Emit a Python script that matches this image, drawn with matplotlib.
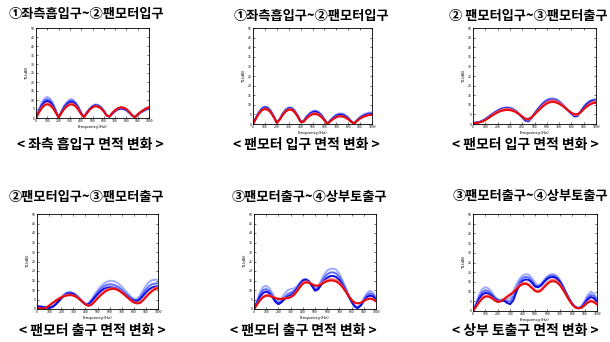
import matplotlib
matplotlib.use("Agg")
import matplotlib.pyplot as plt

plt.rcParams['font.family'] = ['Noto Sans CJK KR', 'DejaVu Sans']

freq = list(range(0, 1001, 25))

# each panel: 5 curves (light blue, blue, dark blue, light red, red)
p1 = [
    [0, 4.4, 8.3, 10.8, 11.7, 10.8, 8.3, 4.4, 0.3, 3.7, 6.9, 8.9, 10.4, 10.3, 8.8, 6.3, 2.9,
     0.5, 3.2, 5.3, 6.8, 7.6, 7.3, 6.2, 4.2, 1.6, 0.7, 2.3, 3.7, 4.6, 5.0, 4.9, 4.2, 2.9, 1.4,
     0.4, 1.7, 2.9, 3.8, 4.6, 5.2],
    [0, 4.0, 7.5, 9.7, 10.5, 9.7, 7.5, 4.0, 0.3, 3.4, 6.5, 8.3, 9.7, 9.6, 8.2, 5.9, 2.7,
     0.5, 3.0, 5.0, 6.5, 7.2, 6.9, 5.8, 4.0, 1.5, 0.7, 2.4, 3.8, 4.8, 5.2, 5.0, 4.3, 3.0, 1.4,
     0.4, 1.8, 3.0, 3.9, 4.8, 5.4],
    [0, 3.6, 6.7, 8.7, 9.5, 8.7, 6.7, 3.6, 0.3, 3.2, 5.9, 7.7, 8.9, 8.8, 7.6, 5.4, 2.5,
     0.5, 2.9, 4.9, 6.3, 7.0, 6.7, 5.7, 3.9, 1.5, 0.8, 2.5, 3.9, 5.0, 5.4, 5.2, 4.5, 3.1, 1.5,
     0.4, 1.8, 3.1, 4.1, 4.9, 5.6],
    [0, 3.2, 5.9, 7.6, 8.3, 7.6, 5.9, 3.2, 0.3, 2.9, 5.4, 7.0, 8.1, 8.0, 6.9, 4.9, 2.3,
     0.5, 2.8, 4.7, 6.0, 6.7, 6.4, 5.4, 3.7, 1.4, 0.8, 2.7, 4.2, 5.3, 5.8, 5.6, 4.8, 3.4, 1.6,
     0.4, 1.9, 3.2, 4.3, 5.2, 5.9],
    [0, 2.9, 5.4, 7.0, 7.6, 7.0, 5.4, 2.9, 0.3, 2.7, 5.0, 6.5, 7.5, 7.4, 6.4, 4.6, 2.1,
     0.5, 2.7, 4.6, 5.9, 6.5, 6.2, 5.3, 3.6, 1.4, 0.8, 2.8, 4.4, 5.5, 6.0, 5.8, 5.0, 3.5, 1.6,
     0.4, 2.0, 3.4, 4.5, 5.4, 6.1],
]
p2 = [
    [0, 3.4, 6.3, 8.3, 9.1, 8.6, 6.8, 4.0, 0.7, 2.6, 5.5, 7.6, 8.6, 8.5, 7.0, 4.5, 1.3,
     1.5, 3.9, 5.6, 6.7, 7.0, 6.4, 4.8, 2.5, 0.1, 2.0, 3.6, 4.9, 5.5, 5.5, 4.7, 3.4, 1.6,
     0.3, 2.1, 3.7, 4.8, 5.5, 5.9, 6.1],
    [0, 3.3, 6.1, 8.1, 8.9, 8.4, 6.7, 3.9, 0.7, 2.6, 5.4, 7.4, 8.4, 8.3, 6.9, 4.4, 1.3,
     1.5, 3.7, 5.4, 6.4, 6.7, 6.1, 4.6, 2.4, 0.1, 1.8, 3.4, 4.6, 5.1, 5.1, 4.4, 3.1, 1.5,
     0.3, 2.0, 3.4, 4.4, 5.1, 5.5, 5.7],
    [0, 3.2, 5.9, 7.8, 8.6, 8.1, 6.5, 3.8, 0.7, 2.5, 5.2, 7.1, 8.1, 8.0, 6.6, 4.3, 1.2,
     1.4, 3.5, 5.0, 6.0, 6.3, 5.7, 4.3, 2.3, 0.1, 1.7, 3.1, 4.2, 4.8, 4.7, 4.0, 2.9, 1.3,
     0.3, 1.9, 3.2, 4.1, 4.8, 5.1, 5.3],
    [0, 3.0, 5.7, 7.5, 8.2, 7.7, 6.2, 3.6, 0.7, 2.4, 5.0, 6.9, 7.8, 7.7, 6.4, 4.1, 1.2,
     1.3, 3.1, 4.6, 5.5, 5.7, 5.2, 3.9, 2.1, 0.1, 1.5, 2.8, 3.8, 4.3, 4.2, 3.6, 2.6, 1.2,
     0.3, 1.7, 2.9, 3.8, 4.4, 4.8, 4.9],
    [0, 2.9, 5.4, 7.1, 7.8, 7.3, 5.9, 3.4, 0.6, 2.3, 4.7, 6.5, 7.4, 7.4, 6.1, 3.9, 1.1,
     1.1, 2.9, 4.2, 5.0, 5.2, 4.7, 3.6, 1.9, 0.1, 1.4, 2.6, 3.5, 4.0, 3.9, 3.4, 2.4, 1.1,
     0.2, 1.6, 2.8, 3.7, 4.2, 4.6, 4.7],
]
p3 = [
    [0.5, 0.7, 1.0, 1.6, 2.6, 3.8, 5.0, 6.2, 7.2, 8.0, 8.5, 8.7, 8.5, 7.9, 6.8, 5.2, 3.4, 1.6,
     1.2, 3.0, 5.5, 7.8, 9.8, 11.5, 12.7, 13.3, 13.4, 13.0, 12.0, 10.5, 8.8, 7.0, 5.3, 3.8,
     4.0, 6.5, 9.0, 10.9, 12.2, 12.8, 13.0],
    [0.5, 0.7, 1.0, 1.6, 2.5, 3.7, 4.9, 6.0, 7.0, 7.8, 8.3, 8.5, 8.3, 7.7, 6.7, 5.2, 3.5, 1.8,
     1.4, 3.1, 5.4, 7.6, 9.5, 11.1, 12.3, 12.9, 13.0, 12.6, 11.7, 10.3, 8.7, 7.0, 5.4, 4.0,
     4.2, 6.4, 8.8, 10.6, 11.8, 12.4, 12.6],
    [0.5, 0.7, 1.0, 1.5, 2.4, 3.5, 4.7, 5.8, 6.8, 7.5, 8.0, 8.2, 8.0, 7.5, 6.6, 5.2, 3.6, 2.0,
     1.7, 3.2, 5.3, 7.4, 9.2, 10.7, 11.8, 12.4, 12.5, 12.2, 11.3, 10.0, 8.5, 7.0, 5.5, 4.2,
     4.4, 6.3, 8.5, 10.2, 11.4, 12.0, 12.2],
    [0.4, 0.6, 0.9, 1.4, 2.2, 3.3, 4.5, 5.6, 6.6, 7.3, 7.8, 8.0, 7.8, 7.3, 6.5, 5.2, 3.8, 2.4,
     2.1, 3.3, 5.1, 7.0, 8.8, 10.3, 11.5, 12.2, 12.4, 12.0, 11.2, 10.0, 8.6, 7.1, 5.7, 4.6,
     4.7, 6.0, 7.9, 9.5, 10.8, 11.6, 12.0],
    [0.3, 0.5, 0.8, 1.2, 2.0, 3.0, 4.1, 5.1, 6.0, 6.7, 7.1, 7.3, 7.2, 6.8, 6.1, 5.0, 3.9, 2.8,
     2.6, 3.5, 4.9, 6.5, 8.1, 9.5, 10.6, 11.3, 11.5, 11.2, 10.5, 9.5, 8.3, 7.0, 5.9, 5.1,
     5.2, 6.1, 7.6, 9.0, 10.1, 10.8, 11.1],
]
p4 = [
    [1.5, 1.4, 1.2, 1.0, 0.8, 1.2, 2.5, 4.3, 6.2, 7.8, 8.9, 9.0, 8.5, 7.4, 5.9, 4.3, 2.9, 3.0,
     5.0, 7.5, 9.8, 11.8, 13.3, 14.3, 14.8, 14.8, 14.3, 13.3, 11.8, 10.0, 8.2, 6.6, 5.4, 5.2,
     6.8, 9.5, 12.2, 14.2, 15.2, 15.4, 15.4],
    [1.4, 1.3, 1.1, 0.9, 0.7, 1.1, 2.3, 4.0, 5.9, 7.5, 8.5, 8.6, 8.2, 7.1, 5.6, 4.0, 2.6, 2.6,
     4.4, 6.6, 8.7, 10.5, 11.9, 12.7, 13.0, 12.9, 12.4, 11.5, 10.2, 8.7, 7.2, 5.9, 4.8, 4.6,
     5.9, 8.1, 10.3, 12.0, 13.0, 13.4, 13.5],
    [1.3, 1.2, 1.0, 0.8, 0.6, 1.0, 2.1, 3.7, 5.5, 7.1, 8.0, 8.2, 7.9, 6.9, 5.4, 3.8, 2.4, 2.3,
     3.9, 5.8, 7.7, 9.3, 10.5, 11.2, 11.5, 11.4, 11.0, 10.2, 9.0, 7.7, 6.4, 5.2, 4.3, 4.0,
     5.0, 6.8, 8.7, 10.3, 11.3, 11.8, 12.0],
    [0.8, 0.4, 0.2, 0.8, 2.0, 3.2, 4.4, 5.5, 6.4, 7.1, 7.5, 7.6, 7.3, 6.6, 5.4, 4.0, 2.6, 1.8,
     2.6, 4.2, 6.0, 7.7, 9.1, 10.2, 10.8, 11.0, 10.7, 10.0, 8.9, 7.6, 6.2, 4.9, 3.8, 3.3,
     3.6, 5.0, 6.8, 8.6, 10.0, 11.0, 11.6],
    [0.7, 0.3, 0.1, 0.6, 1.7, 2.9, 4.0, 5.1, 6.0, 6.7, 7.1, 7.3, 7.0, 6.3, 5.2, 3.8, 2.4, 1.6,
     2.2, 3.7, 5.5, 7.1, 8.5, 9.6, 10.3, 10.6, 10.4, 9.7, 8.6, 7.3, 5.9, 4.5, 3.4, 2.9,
     3.1, 4.4, 6.2, 7.9, 9.3, 10.4, 11.0],
]
p5 = [
    [0, 4.5, 9.0, 11.6, 12.2, 11.0, 8.5, 5.5, 4.0, 5.5, 8.0, 9.8, 10.5, 10.8, 11.8, 13.8, 15.5,
     15.8, 15.0, 13.0, 11.0, 11.8, 15.0, 18.2, 20.2, 21.1, 21.3, 20.6, 18.5, 15.2, 11.5, 7.8,
     4.5, 1.8, 0.8, 2.5, 5.6, 8.4, 9.6, 8.8, 6.2],
    [0, 3.8, 7.8, 10.0, 10.5, 9.5, 7.2, 4.5, 3.0, 4.2, 6.2, 7.8, 8.6, 9.4, 11.0, 13.4, 15.2,
     15.6, 14.7, 12.5, 10.3, 11.0, 13.8, 16.5, 18.3, 19.2, 19.3, 18.6, 16.8, 13.9, 10.6, 7.2,
     4.1, 1.5, 0.6, 2.1, 4.8, 7.2, 8.3, 7.6, 5.5],
    [0, 3.2, 6.5, 8.5, 9.2, 8.3, 6.3, 3.8, 2.5, 3.5, 5.2, 6.5, 7.3, 8.4, 10.4, 13.0, 14.9,
     15.4, 14.4, 12.1, 9.6, 10.3, 12.6, 15.0, 16.5, 17.3, 17.4, 16.8, 15.2, 12.6, 9.7, 6.6,
     3.7, 1.3, 0.5, 1.8, 4.1, 6.2, 7.1, 6.6, 4.9],
    [0, 2.5, 5.0, 6.7, 7.5, 7.3, 6.6, 5.9, 5.5, 5.5, 5.7, 5.9, 6.4, 7.6, 9.6, 12.0, 14.0,
     14.6, 14.2, 13.2, 12.4, 12.4, 13.4, 14.6, 15.4, 15.8, 15.7, 15.2, 14.0, 12.0, 9.6, 7.0,
     4.7, 3.2, 2.8, 3.2, 4.3, 5.3, 5.8, 5.3, 4.2],
    [0, 2.3, 4.6, 6.2, 7.0, 6.9, 6.3, 5.7, 5.3, 5.3, 5.5, 5.7, 6.1, 7.2, 9.0, 11.3, 13.3,
     14.0, 13.8, 13.0, 12.3, 12.2, 12.9, 13.9, 14.6, 15.0, 14.9, 14.4, 13.3, 11.5, 9.3, 6.9,
     4.8, 3.4, 3.0, 3.3, 4.2, 5.0, 5.4, 5.0, 4.0],
]
p6 = [
    [0, 4.2, 8.5, 11.3, 12.3, 11.6, 9.8, 7.5, 6.0, 5.8, 6.2, 6.0, 6.8, 10.0, 13.8, 16.6, 18.3,
     19.0, 18.7, 17.0, 14.5, 13.2, 14.0, 16.2, 18.0, 18.9, 19.0, 18.2, 16.2, 13.2, 9.8, 6.6,
     4.0, 2.3, 1.7, 2.5, 5.2, 8.3, 9.9, 9.0, 6.3],
    [0, 3.6, 7.3, 9.8, 10.7, 10.2, 8.7, 6.8, 5.6, 5.4, 5.6, 5.0, 5.0, 7.5, 11.6, 15.0, 17.0,
     17.6, 17.2, 15.6, 13.4, 12.6, 13.6, 15.6, 17.3, 18.2, 18.3, 17.5, 15.6, 12.8, 9.5, 6.4,
     3.8, 2.1, 1.5, 2.2, 4.4, 7.0, 8.4, 7.7, 5.4],
    [0, 3.1, 6.3, 8.5, 9.4, 9.0, 7.8, 6.3, 5.3, 5.2, 5.3, 4.2, 3.5, 5.5, 9.8, 13.6, 15.6,
     16.3, 16.0, 14.6, 12.6, 12.2, 13.2, 15.1, 16.6, 17.4, 17.5, 16.8, 15.0, 12.3, 9.2, 6.2,
     3.6, 1.9, 1.4, 2.0, 3.8, 6.0, 7.2, 6.6, 4.7],
    [0, 2.5, 5.0, 7.0, 8.1, 8.0, 7.1, 5.8, 4.9, 5.3, 6.3, 7.6, 8.7, 10.0, 11.8, 13.5, 14.5,
     14.6, 13.8, 12.3, 10.8, 10.3, 11.2, 13.0, 14.8, 15.9, 16.2, 15.6, 14.0, 11.6, 8.7, 5.9,
     3.5, 1.9, 1.4, 1.8, 3.2, 4.8, 5.6, 5.0, 3.6],
    [0, 2.2, 4.5, 6.4, 7.4, 7.4, 6.6, 5.4, 4.6, 5.0, 6.0, 7.3, 8.4, 9.6, 11.2, 12.8, 13.8,
     14.0, 13.3, 11.8, 10.3, 9.8, 10.6, 12.3, 14.0, 15.1, 15.4, 14.8, 13.3, 11.0, 8.3, 5.6,
     3.3, 1.8, 1.3, 1.6, 2.9, 4.3, 5.0, 4.5, 3.3],
]

titles = [
    "①좌측흡입구~②팬모터입구",
    "①좌측흡입구~②팬모터입구",
    "② 팬모터입구~③팬모터출구",
    "②팬모터입구~③팬모터출구",
    "③팬모터출구~④상부토출구",
    "③팬모터출구~④상부토출구",
]
captions = [
    "< 좌측 흡입구 면적 변화 >",
    "< 팬모터 입구 면적 변화 >",
    "< 팬모터 입구 면적 변화 >",
    "< 팬모터 출구 면적 변화 >",
    "< 팬모터 출구 면적 변화 >",
    "< 상부 토출구 면적 변화 >",
]
y_ticks = list(range(0, 51, 5))
x_ticks = list(range(0, 1001, 100))

W, H = 610, 342
# axes boxes in pixels: left, top, right, bottom
boxes = [(36, 28, 149, 118), (253, 28, 372, 124), (473, 28, 596, 124),
         (37, 214, 158, 309), (254, 214, 376, 309), (473, 214, 597, 311)]
title_pos = [(86, 14), (311, 16), (528, 16), (86, 197), (309, 197), (530, 196)]
cap_pos = [(90, 145), (306, 145), (525, 145), (92, 331), (303, 331), (525, 331)]

colors = ['#8e9cff', '#4d5dff', '#0000dd', '#ff6b6b', '#e60000']
alphas = [0.85, 0.9, 0.95, 0.9, 0.95]

fig = plt.figure(figsize=(W / 100, H / 100), dpi=100)
panels = [p1, p2, p3, p4, p5, p6]
for i, data in enumerate(panels):
    l, t, r, b = boxes[i]
    ax = fig.add_axes([l / W, 1 - b / H, (r - l) / W, (b - t) / H])
    for c, (curve, col, a) in enumerate(zip(data, colors, alphas)):
        ax.plot(freq, curve, color=col, lw=1.4, alpha=a, solid_capstyle='round')
    ax.set_xlim(0, 1000)
    ax.set_ylim(0, 50)
    ax.set_xticks(x_ticks)
    ax.set_yticks(y_ticks)
    ax.tick_params(direction='in', length=1.5, width=0.4, labelsize=2.5, pad=1,
                   top=True, right=True)
    ax.set_xlabel("Frequency(Hz)", fontsize=3, labelpad=1, family='DejaVu Sans')
    ax.set_ylabel("TL(dB)", fontsize=3, labelpad=1, family='DejaVu Sans')
    for s in ax.spines.values():
        s.set_linewidth(0.6)
    tx, ty = title_pos[i]
    fig.text(tx / W, 1 - ty / H, titles[i], ha='center', va='center',
             fontsize=9.5, fontweight='bold')
    cx, cy = cap_pos[i]
    fig.text(cx / W, 1 - cy / H, captions[i], ha='center', va='center',
             fontsize=10, fontweight='bold')

fig.savefig("out.png", dpi=100, facecolor='white')
